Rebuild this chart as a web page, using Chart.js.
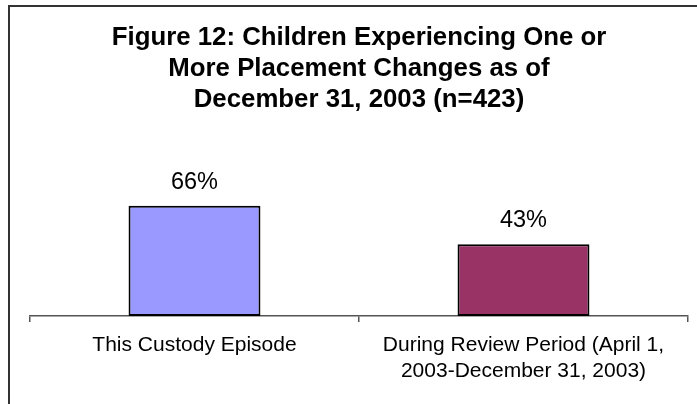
<!DOCTYPE html>
<html>
<head>
<meta charset="utf-8">
<script src="https://cdn.jsdelivr.net/npm/chart.js@4"></script>
<style>
  html, body { margin: 0; padding: 0; background: #fff; overflow: hidden; }
  #wrap { position: relative; width: 697px; height: 404px; }
  #frame {
    position: absolute; left: 8px; top: 5px; width: 800px; height: 500px;
    border-left: 2px solid #333; border-top: 2px solid #333; pointer-events: none;
  }
</style>
</head>
<body>
<div id="wrap">
  <canvas id="chart" width="697" height="404"></canvas>
  <div id="frame"></div>
</div>
<script>
const categories = [
  "This Custody Episode",
  ["During Review Period (April 1,", "2003-December 31, 2003)"]
];
const percentValues = [66, 43];
const barColors = ["#9999FF", "#993366"];
const titleLines = [
  "Figure 12: Children Experiencing One or",
  "More Placement Changes as of",
  "December 31, 2003 (n=423)"
];

const FONT = "'Liberation Sans', Arial, sans-serif";

// value labels above bars
const valueLabels = {
  id: "valueLabels",
  afterDatasetsDraw(chart) {
    const ctx = chart.ctx;
    const meta = chart.getDatasetMeta(0);
    ctx.save();
    ctx.font = "23.5px " + FONT;
    ctx.fillStyle = "#000";
    ctx.textAlign = "center";
    ctx.textBaseline = "alphabetic";
    meta.data.forEach((bar, i) => {
      ctx.fillText(percentValues[i] + "%", bar.x, bar.y - 17);
    });
    ctx.restore();
  }
};

const ctx = document.getElementById("chart").getContext("2d");
new Chart(ctx, {
  type: "bar",
  data: {
    labels: categories,
    datasets: [{
      data: percentValues,
      backgroundColor: barColors,
      borderColor: "#000",
      borderWidth: 2,
      borderSkipped: false,
      categoryPercentage: 1,
      barPercentage: 0.401
    }]
  },
  options: {
    responsive: false,
    animation: false,
    layout: { padding: { left: 30, right: 9, top: 0, bottom: 0 } },
    plugins: {
      legend: { display: false },
      tooltip: { enabled: false },
      title: {
        display: true,
        text: titleLines,
        color: "#000",
        font: { family: FONT, size: 25.8, weight: "bold", lineHeight: 1.2 },
        padding: { top: 22, bottom: 34 }
      }
    },
    scales: {
      y: {
        display: false,
        min: 0,
        max: 100
      },
      x: {
        afterFit(scale) { scale.height = 88; },
        grid: {
          offset: true,
          drawOnChartArea: false,
          tickLength: 6,
          color: "#555",
          lineWidth: 1.5
        },
        border: { display: true, color: "#555", width: 1.5 },
        ticks: {
          color: "#000",
          font: { family: FONT, size: 21, lineHeight: 1.24 },
          padding: 10,
          maxRotation: 0,
          autoSkip: false
        }
      }
    }
  },
  plugins: [valueLabels]
});
</script>
</body>
</html>
